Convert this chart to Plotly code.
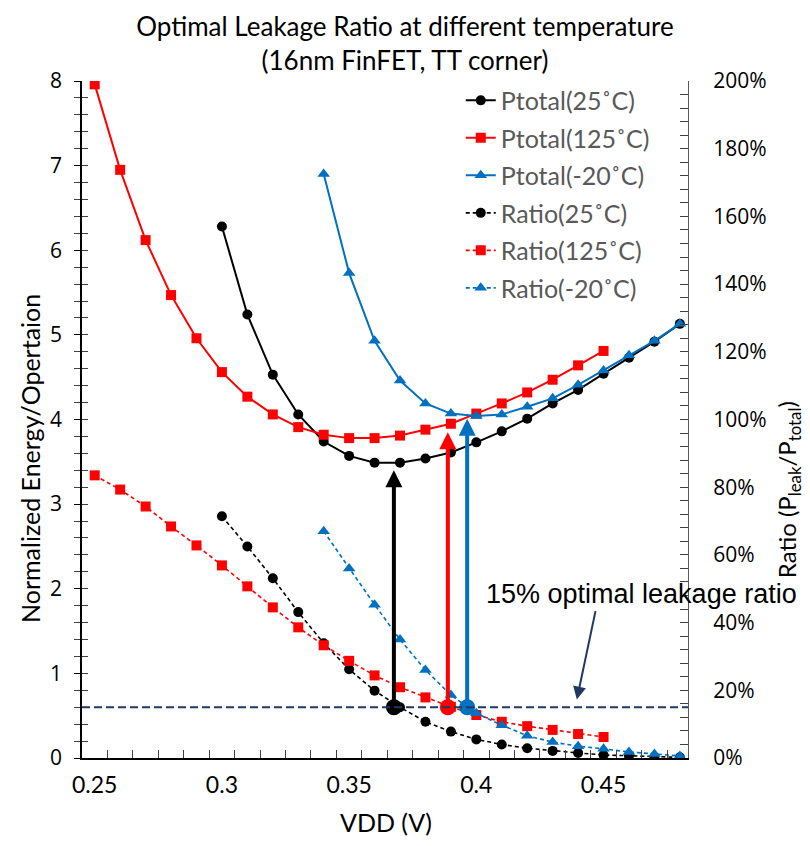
import plotly.graph_objects as go

# ---------------- data ----------------
vdd_125 = [0.25, 0.26, 0.27, 0.28, 0.29, 0.30, 0.31, 0.32, 0.33, 0.34, 0.35,
           0.36, 0.37, 0.38, 0.39, 0.40, 0.41, 0.42, 0.43, 0.44, 0.45]
vdd_25 = [0.30, 0.31, 0.32, 0.33, 0.34, 0.35, 0.36, 0.37, 0.38, 0.39, 0.40,
          0.41, 0.42, 0.43, 0.44, 0.45, 0.46, 0.47, 0.48]
vdd_m20 = [0.34, 0.35, 0.36, 0.37, 0.38, 0.39, 0.40, 0.41, 0.42, 0.43, 0.44,
           0.45, 0.46, 0.47, 0.48]

ptotal_25 = [6.28, 5.24, 4.53, 4.06, 3.74, 3.57, 3.49, 3.49, 3.54, 3.61, 3.73,
             3.86, 4.01, 4.19, 4.35, 4.54, 4.73, 4.92, 5.13]
ptotal_125 = [7.96, 6.95, 6.12, 5.47, 4.96, 4.56, 4.27, 4.06, 3.91, 3.82, 3.78,
              3.78, 3.81, 3.88, 3.95, 4.07, 4.19, 4.32, 4.47, 4.64, 4.81]
ptotal_m20 = [6.90, 5.73, 4.93, 4.46, 4.19, 4.07, 4.04, 4.06, 4.15, 4.25, 4.41,
              4.58, 4.76, 4.93, 5.13]

ratio_25 = [0.714, 0.625, 0.531, 0.431, 0.339, 0.262, 0.199, 0.150, 0.107, 0.078,
            0.055, 0.040, 0.029, 0.021, 0.015, 0.009, 0.006, 0.003, 0.002]
ratio_125 = [0.835, 0.793, 0.743, 0.684, 0.628, 0.569, 0.507, 0.445, 0.386, 0.333,
             0.287, 0.244, 0.209, 0.179, 0.151, 0.127, 0.107, 0.094, 0.083, 0.071, 0.062]
ratio_m20 = [0.670, 0.560, 0.453, 0.350, 0.260, 0.186, 0.132, 0.097, 0.066, 0.047,
             0.035, 0.027, 0.018, 0.012, 0.006]

optimal_ratio = 0.15
opt_vdd = [0.3676, 0.3888, 0.3964]          # 25C, 125C, -20C
opt_ptotal_tip = [3.40, 3.85, 4.01]
opt_colors = ["#000000", "#FF0000", "#0070C0"]

BLACK, RED, BLUE = "#000000", "#FF0000", "#0070C0"
NAVY = "#1F3864"

fig = go.Figure()

def add(x, y, name, color, symbol, axis, dash, grp):
    fig.add_trace(go.Scatter(
        x=x, y=y, name=name, mode="lines+markers", yaxis=axis,
        legendgroup=grp,
        line=dict(color=color, width=2 if dash == "solid" else 1.6, dash=dash),
        marker=dict(color=color, symbol=symbol, size=10 if symbol != "triangle-up" else 11),
    ))

dsh = "4px,3px"
add(vdd_25, ptotal_25, "Ptotal(25˚C)", BLACK, "circle", "y", "solid", "a")
add(vdd_125, ptotal_125, "Ptotal(125˚C)", RED, "square", "y", "solid", "b")
add(vdd_m20, ptotal_m20, "Ptotal(-20˚C)", BLUE, "triangle-up", "y", "solid", "c")
add(vdd_25, ratio_25, "Ratio(25˚C)", BLACK, "circle", "y2", dsh, "d")
add(vdd_125, ratio_125, "Ratio(125˚C)", RED, "square", "y2", dsh, "e")
add(vdd_m20, ratio_m20, "Ratio(-20˚C)", BLUE, "triangle-up", "y2", dsh, "f")

# big circles at the optimal points
fig.add_trace(go.Scatter(
    x=opt_vdd, y=[optimal_ratio] * len(opt_vdd), yaxis="y2", mode="markers",
    marker=dict(color=opt_colors, size=16, symbol="circle"), showlegend=False,
    hoverinfo="skip"))

# dummy trace for the inner tick axis
fig.add_trace(go.Scatter(x=[None], y=[None], yaxis="y3", showlegend=False))

# 15% line
fig.add_shape(type="line", xref="paper", x0=0, x1=1, yref="y2",
              y0=optimal_ratio, y1=optimal_ratio,
              line=dict(color=NAVY, width=2, dash="8px,4px"))

# vertical arrows
for xv, tip, c in zip(opt_vdd, opt_ptotal_tip, opt_colors):
    fig.add_annotation(x=xv, y=tip, xref="x", yref="y",
                       ax=xv, ay=optimal_ratio * 4, axref="x", ayref="y",
                       text="", showarrow=True, arrowhead=2, arrowsize=0.85,
                       arrowwidth=4, arrowcolor=c, standoff=0)

# text annotation
fig.add_annotation(x=0.663, y=0.242, xref="paper", yref="paper",
                   xanchor="left", yanchor="middle", showarrow=False,
                   text="15% optimal leakage ratio",
                   font=dict(family="Liberation Sans, Arial", size=27, color="#000000"))
fig.add_annotation(x=0.4395, y=0.69, xref="x", yref="y", ax=19, ay=-90,
                   text="", showarrow=True, arrowhead=2, arrowsize=1.3,
                   arrowwidth=2, arrowcolor=NAVY, standoff=0)

# axis titles
TITLEFONT = dict(family="Lato", size=25, color="#000000")
fig.add_annotation(x=-0.0858, y=0.4417, xref="paper", yref="paper", showarrow=False,
                   textangle=-90, xanchor="center", yanchor="middle",
                   text="Normalized Energy/Opertaion", font=TITLEFONT)
fig.add_annotation(x=1.165, y=0.397, xref="paper", yref="paper", showarrow=False,
                   textangle=-90, xanchor="center", yanchor="middle",
                   text="Ratio (P<sub>leak</sub>/P<sub>total</sub>)",
                   font=dict(family="Lato", size=24, color="#000000"))
fig.add_annotation(x=0.5017, y=-0.0945, xref="paper", yref="paper", showarrow=False,
                   xanchor="center", yanchor="middle",
                   text="VDD (V)", font=TITLEFONT)

TICKFONT_Y = dict(family="Open Sans", size=21, color="#000000")

fig.update_layout(
    width=810, height=846,
    margin=dict(l=82, r=122, t=81, b=88),
    paper_bgcolor="white", plot_bgcolor="white",
    title=dict(text="Optimal Leakage Ratio at different temperature<br>(16nm FinFET, TT corner)",
               x=0.5, xanchor="center", y=0.957, yanchor="middle", yref="container",
               font=dict(family="Lato", size=26, color="#000000")),
    showlegend=True,
    legend=dict(x=0.625, y=1.005, xanchor="left", yanchor="top",
                font=dict(family="Lato", size=25, color="#595959"),
                bgcolor="rgba(0,0,0,0)", tracegroupgap=2),
    xaxis=dict(range=[0.245, 0.4832], tick0=0.25, dtick=0.05,
               ticks="inside", ticklen=0,
               minor=dict(tick0=0.255, dtick=0.01, ticks="inside", ticklen=8,
                          tickcolor="#404040", tickwidth=1),
               showline=True, linecolor="#000000", linewidth=1.5,
               showgrid=False, zeroline=False, ticklabelstandoff=6,
               tickfont=dict(family="Lato", size=23, color="#000000")),
    yaxis=dict(range=[0, 8], dtick=1, ticks="outside", ticklen=6, tickcolor="#000000",
               minor=dict(dtick=0.2, ticks="outside", ticklen=6, tickcolor="#404040"),
               showline=True, linecolor="#000000", linewidth=1.5,
               showgrid=False, zeroline=False, tickfont=TICKFONT_Y,
               ticklabelstandoff=8),
    yaxis3=dict(range=[0, 8], overlaying="y", side="left", dtick=0.2,
                ticks="inside", ticklen=6, tickcolor="#404040",
                showticklabels=False, showline=False, showgrid=False, zeroline=False),
    yaxis2=dict(range=[0, 2], overlaying="y", side="right", dtick=0.2,
                tickformat=".0%", ticks="inside", ticklen=8, tickcolor="#404040",
                minor=dict(dtick=0.04, ticks="inside", ticklen=8, tickcolor="#404040"),
                showline=True, linecolor="#595959", linewidth=1,
                showgrid=False, zeroline=False, tickfont=TICKFONT_Y,
                ticklabelstandoff=20),
)

fig.write_html("out.html")
